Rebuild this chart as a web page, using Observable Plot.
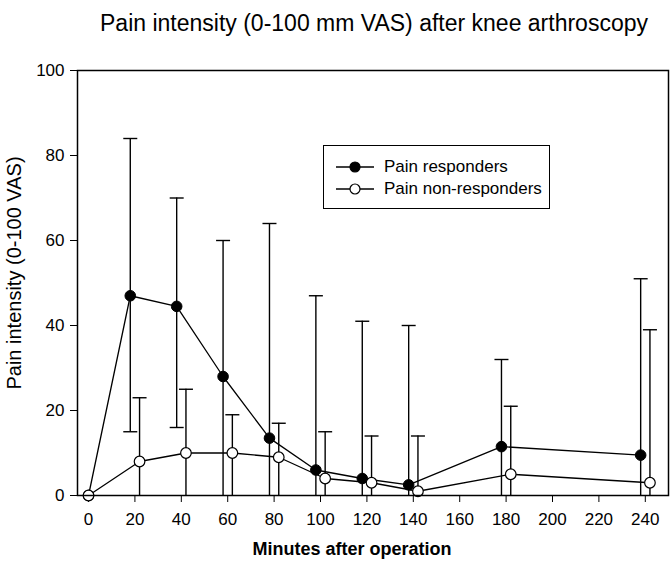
<!DOCTYPE html>
<html><head><meta charset="utf-8">
<script src="https://cdn.jsdelivr.net/npm/d3@7"></script>
<script src="https://cdn.jsdelivr.net/npm/@observablehq/plot@0.6"></script>
<style>
body{margin:0;background:#fff;}
#wrap{position:relative;width:671px;height:567px;font-family:"Liberation Sans",Arial,sans-serif;}
#legend{position:absolute;left:323px;top:145px;width:227px;height:64px;border:1.3px solid #000;box-sizing:border-box;background:#fff;font-size:17px;color:#000;}
#legend .row{position:absolute;left:11px;height:20px;display:flex;align-items:center;}
#legend svg{margin-right:9px;}
</style></head><body><div id="wrap"></div>
<script>
const minutes = [0, 20, 40, 60, 80, 100, 120, 140, 180, 240];
const respX = [0, 18, 38, 58, 78, 98, 118, 138, 178, 238];
const respMean = [0, 47, 44.5, 28, 13.5, 6, 4, 2.5, 11.5, 9.5];
const respUpper = [0, 84, 70, 60, 64, 47, 41, 40, 32, 51];
const respLower = [0, 15, 16, 0, 0, 0, 0, 0, 0, 0];
const nonX = [0, 22, 42, 62, 82, 102, 122, 142, 182, 242];
const nonMean = [0, 8, 10, 10, 9, 4, 3, 1, 5, 3];
const nonUpper = [0, 23, 25, 19, 17, 15, 14, 14, 21, 39];
const nonLower = [0, 0, 0, 0, 0, 0, 0, 0, 0, 0];
const xTicks = [0, 20, 40, 60, 80, 100, 120, 140, 160, 180, 200, 220, 240];
const yTicks = [0, 20, 40, 60, 80, 100];
const seriesNames = ["Pain responders", "Pain non-responders"];
const titleText = "Pain intensity (0-100 mm VAS) after knee arthroscopy";
const xLabel = "Minutes after operation";
const yLabel = "Pain intensity (0-100 VAS)";

const resp = minutes.map((m, i) => ({m, x: respX[i], mean: respMean[i], lo: respLower[i], hi: respUpper[i]}));
const non = minutes.map((m, i) => ({m, x: nonX[i], mean: nonMean[i], lo: nonLower[i], hi: nonUpper[i]}));
const bars = d => d.filter(r => r.hi > 0);

const cap = {draw(ctx) { ctx.moveTo(-7, 0); ctx.lineTo(7, 0); }};

const chart = Plot.plot({
  width: 671, height: 567,
  marginLeft: 77, marginRight: 3, marginTop: 70, marginBottom: 72,
  style: {fontFamily: '"Liberation Sans", Arial, sans-serif', fontSize: "17px", color: "#000", background: "#fff"},
  x: {domain: [-4.75, 250], ticks: xTicks, tickSize: 7, tickPadding: 10, label: null},
  y: {domain: [0, 100], ticks: yTicks, tickSize: 7, tickPadding: 6, label: null},
  marks: [
    Plot.ruleX(bars(resp), {x: "x", y1: "lo", y2: "hi", stroke: "#000", strokeWidth: 1.4}),
    Plot.ruleX(bars(non), {x: "x", y1: "lo", y2: "hi", stroke: "#000", strokeWidth: 1.4}),
    Plot.dot(bars(resp), {x: "x", y: "hi", symbol: cap, stroke: "#000", strokeWidth: 1.4, r: 3}),
    Plot.dot(bars(resp).filter(r => r.lo > 0), {x: "x", y: "lo", symbol: cap, stroke: "#000", strokeWidth: 1.4, r: 3}),
    Plot.dot(bars(non), {x: "x", y: "hi", symbol: cap, stroke: "#000", strokeWidth: 1.4, r: 3}),
    Plot.line(resp, {x: "x", y: "mean", stroke: "#000", strokeWidth: 1.3}),
    Plot.line(non, {x: "x", y: "mean", stroke: "#000", strokeWidth: 1.3}),
    Plot.dot(resp, {x: "x", y: "mean", r: 5.3, fill: "#000", stroke: "#000", strokeWidth: 1}),
    Plot.dot(non, {x: "x", y: "mean", r: 5.3, fill: "#fff", stroke: "#000", strokeWidth: 1.2}),
    Plot.frame({stroke: "#000", strokeWidth: 1.5}),
    Plot.text([titleText], {frameAnchor: "top", dy: -56, dx: 1, fontSize: 23, fill: "#000"}),
    Plot.text([xLabel], {frameAnchor: "bottom", dy: 59, dx: -21, fontSize: 18, fontWeight: "bold", fill: "#000"}),
    Plot.text([yLabel], {frameAnchor: "left", textAnchor: "middle", dx: -63, dy: -10, rotate: -90, fontSize: 20, fill: "#000"})
  ]
});
const wrap = document.getElementById("wrap");
wrap.appendChild(chart);

const legend = document.createElement("div");
legend.id = "legend";
seriesNames.forEach((name, i) => {
  const row = document.createElement("div");
  row.className = "row";
  row.style.top = (i === 0 ? 11 : 33) + "px";
  const fill = i === 0 ? "#000" : "#fff";
  row.innerHTML = `<svg width="40" height="14"><line x1="1" x2="39" y1="7" y2="7" stroke="#000" stroke-width="1.3"/><circle cx="20" cy="7" r="5" fill="${fill}" stroke="#000" stroke-width="1.2"/></svg><span>${name}</span>`;
  legend.appendChild(row);
});
wrap.appendChild(legend);
</script>
</body></html>
